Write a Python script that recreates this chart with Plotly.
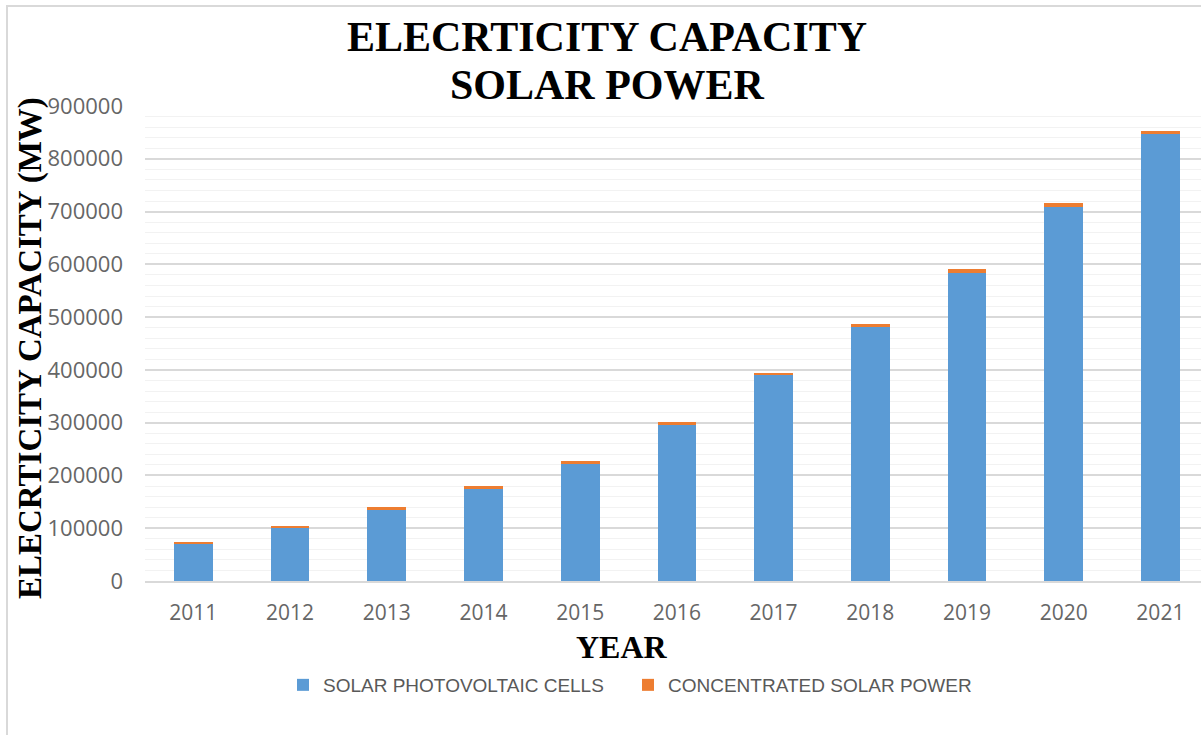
import plotly.graph_objects as go

years = ["2011", "2012", "2013", "2014", "2015", "2016", "2017", "2018", "2019", "2020", "2021"]
pv = [71500, 100500, 136000, 175000, 222500, 295500, 389500, 481500, 584500, 709500, 846500]
csp = [1700, 2600, 3600, 4400, 4800, 4900, 5100, 5600, 6300, 6400, 6500]
yticks = [0, 100000, 200000, 300000, 400000, 500000, 600000, 700000, 800000, 900000]

W, H = 1201, 735
L, R, T, B = 145, 0, 106, 154

fig = go.Figure()
fig.add_trace(go.Bar(x=years, y=pv, name="SOLAR PHOTOVOLTAIC CELLS",
                     marker=dict(color="#5B9BD5", line=dict(width=0))))
fig.add_trace(go.Bar(x=years, y=csp, name="CONCENTRATED SOLAR POWER",
                     marker=dict(color="#ED7D31", line=dict(width=0))))

pw = W - L - R
ph = H - T - B
def px2x(p):
    return (p - L) / pw
def px2y(p):
    return (H - B - p) / ph

serif = "Liberation Serif"
annotations = [
    dict(text="<b>ELECRTICITY CAPACITY</b>", x=px2x(607), y=px2y(37), xref="paper", yref="paper",
         xanchor="center", yanchor="middle", showarrow=False,
         font=dict(family=serif, size=42, color="black")),
    dict(text="<b>SOLAR POWER</b>", x=px2x(607), y=px2y(85), xref="paper", yref="paper",
         xanchor="center", yanchor="middle", showarrow=False,
         font=dict(family=serif, size=42, color="black")),
    dict(text="<b>YEAR</b>", x=px2x(622), y=px2y(647), xref="paper", yref="paper",
         xanchor="center", yanchor="middle", showarrow=False,
         font=dict(family=serif, size=32, color="black")),
    dict(text="<b>ELECRTICITY CAPACITY (MW)</b>", x=px2x(30), y=px2y(348), xref="paper", yref="paper",
         xanchor="center", yanchor="middle", showarrow=False, textangle=-90,
         font=dict(family=serif, size=33, color="black")),
]

fig.update_layout(
    width=W, height=H,
    margin=dict(l=L, r=R, t=T, b=B, pad=0),
    barmode="stack", bargap=0.6,
    plot_bgcolor="white", paper_bgcolor="white",
    font=dict(family="Open Sans", color="#595959"),
    legend=dict(orientation="h", x=px2x(283), xanchor="left", y=px2y(685), yanchor="middle",
                font=dict(family="Liberation Sans Narrow, Liberation Sans", size=19, color="#595959"),
                traceorder="normal", itemwidth=30, entrywidth=300),
    showlegend=True,
    annotations=annotations,
    shapes=[dict(type="rect", xref="paper", yref="paper",
                 x0=px2x(7), x1=px2x(1215), y0=px2y(760), y1=px2y(6),
                 line=dict(color="#d9d9d9", width=2), fillcolor="rgba(0,0,0,0)", layer="below")],
)

fig.update_xaxes(type="category", range=[-0.5, 10.42], showgrid=False,
                 showline=True, linecolor="#d9d9d9", linewidth=2,
                 ticks="", ticklabelstandoff=12,
                 tickfont=dict(family="Open Sans", size=21, color="#666666"))
fig.update_yaxes(range=[0, 900000], tickvals=yticks, ticktext=[str(v) for v in yticks],
                 showgrid=True, gridcolor="#d9d9d9", gridwidth=1.5, zeroline=False,
                 minor=dict(dtick=20000, tick0=0, showgrid=True, gridcolor="#f2f2f2", gridwidth=1),
                 ticks="", ticklabelstandoff=21,
                 tickfont=dict(family="Open Sans", size=22, color="#666666"))

fig.write_html("out.html")
